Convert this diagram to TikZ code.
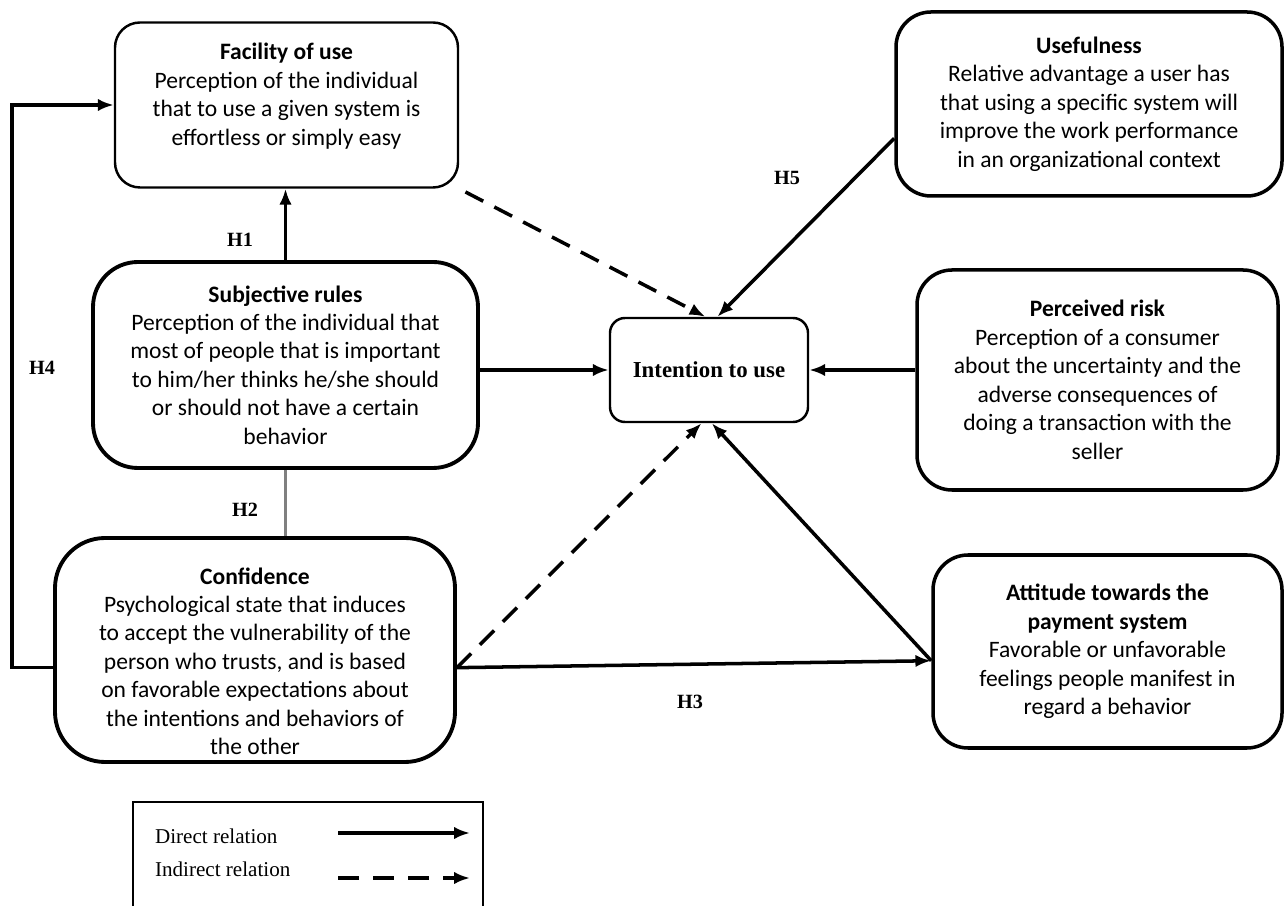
\documentclass[tikz,border=0pt]{standalone}
\usepackage{fontspec}
\usetikzlibrary{arrows.meta}
\setmainfont{Carlito}
\newfontfamily\timesfont{Liberation Serif}
\begin{document}
\begin{tikzpicture}[>={Latex[length=9pt, width=7pt]}, line width=2pt,
    box/.style={draw, rounded corners=0.8cm, line width=2pt, align=center, font=\fontsize{13.4}{16.2}\selectfont},
    hlabel/.style={font=\timesfont\bfseries\fontsize{11.5}{13}\selectfont},
    dasharrow/.style={->, dash pattern=on 0.4cm off 0.25cm}]
    \useasboundingbox (0,0) rectangle (25.7,18.1);

    % Left: factors
    \node[box, line width=1.4pt, rounded corners=0.5cm, minimum width=6.86cm, minimum height=3.3cm] (fac) at (5.73,16.0) {\textbf{Facility of use}\\Perception of the individual\\that to use a given system is\\effortless or simply easy\\[-4pt]\mbox{}};
    \node[box, line width=2.2pt, rounded corners=0.9cm, minimum width=7.7cm, minimum height=4.12cm] (subj) at (5.71,10.8) {\textbf{Subjective rules}\\Perception of the individual that\\most of people that is important\\to him/her thinks he/she should\\or should not have a certain\\behavior};
    \node[box, line width=2.2pt, rounded corners=1cm, minimum width=8.0cm, minimum height=4.48cm] (conf) at (5.1,5.1) {\mbox{}\\[6pt]\textbf{Confidence}\\Psychological state that induces\\to accept the vulnerability of the\\person who trusts, and is based\\on favorable expectations about\\the intentions and behaviors of\\the other};

    % Middle: target
    \node[box, line width=1.4pt, rounded corners=0.3cm, minimum width=3.96cm, minimum height=2.08cm, font=\timesfont\bfseries\fontsize{13}{15}\selectfont] (int) at (14.18,10.7) {Intention to use};

    % Right: factors
    \node[box, rounded corners=0.7cm, minimum width=7.72cm, minimum height=3.68cm] (use) at (21.78,16.02) {\textbf{Usefulness}\\Relative advantage a user has\\that using a specific system will\\improve the work performance\\in an organizational context};
    \node[box, rounded corners=0.7cm, minimum width=7.22cm, minimum height=4.4cm] (risk) at (21.95,10.5) {\textbf{Perceived risk}\\Perception of a consumer\\about the uncertainty and the\\adverse consequences of\\doing a transaction with the\\seller};
    \node[box, rounded corners=0.7cm, minimum width=6.98cm, minimum height=3.86cm] (att) at (22.15,5.07) {\textbf{Attitude towards the}\\\textbf{payment system}\\Favorable or unfavorable\\feelings people manifest in\\regard a behavior};

    % Relations
    \coordinate (h4) at (0.24,0);
    \draw[->] (conf.185) -| (h4 |- fac.west) -- (fac.west);
    \draw[->] (subj.north) -- (subj.north |- fac.south);
    \draw[gray, line width=2pt] (subj.south) -- (subj.south |- conf.north);
    \draw[->] (subj.east |- int.west) -- (int.west);
    \draw[->] (risk.west |- int.east) -- (int.east);
    \draw[->] (use.190) -- (int.81);
    \draw[dasharrow, shorten <=4pt] (fac.south east) -- (int.94);
    \draw[dasharrow] (conf.355) -- (int.262);
    \draw[->] (att.183) -- (int.273);
    \draw[->] (conf.355) -- (att.183);

    \node[hlabel] (h1) at (4.8,13.3) {H1};
    \node[hlabel] (h2) at (4.9,7.9) {H2};
    \node[hlabel] (h3) at (13.8,4.06) {H3};
    \node[hlabel] (h4l) at (0.84,10.74) {H4};
    \node[hlabel] (h5) at (15.74,14.54) {H5};

    % Bottom: legend
    \draw[line width=1.6pt] (2.66,-0.3) rectangle (9.66,2.06);
    \node[anchor=west, font=\timesfont\fontsize{12}{14}\selectfont] (dir) at (2.95,1.38) {Direct relation};
    \node[anchor=west, font=\timesfont\fontsize{12}{14}\selectfont] (ind) at (2.95,0.72) {Indirect relation};
    \coordinate (d1) at (6.76,1.44);
    \coordinate (d2) at (9.4,1.44);
    \coordinate (i1) at (6.76,0.54);
    \coordinate (i2) at (9.4,0.54);
    \draw[->, line width=2.4pt] (d1) -- (d2);
    \draw[->, line width=2.4pt, dash pattern=on 0.42cm off 0.28cm] (i1) -- (i2);
\end{tikzpicture}
\end{document}
